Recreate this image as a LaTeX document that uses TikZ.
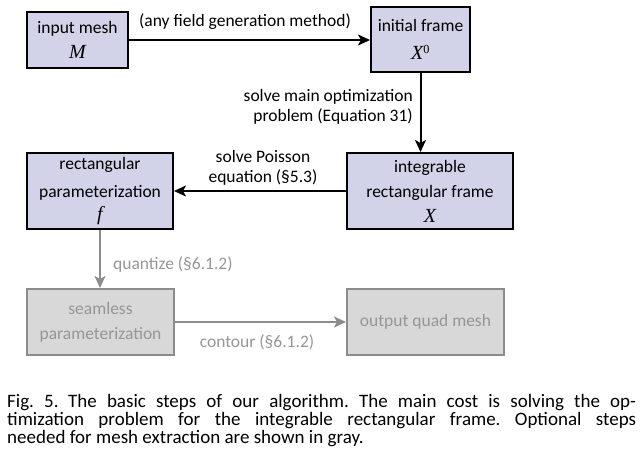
\documentclass[tikz,border=0pt]{standalone}
\usepackage{fontspec}
\setmainfont{Carlito}
\newfontfamily\varfont{Liberation Serif}
\newcommand{\var}[1]{{\fontsize{20}{24}\varfont\itshape #1}}
\usetikzlibrary{arrows.meta}
\definecolor{boxblue}{RGB}{210,210,232}
\definecolor{boxgray}{RGB}{216,216,216}
\definecolor{linegray}{RGB}{140,140,140}
\definecolor{textgray}{RGB}{150,150,150}
\begin{document}
\begin{tikzpicture}[x=1pt,y=-1pt,
  stepbox/.style={draw,line width=2pt,fill=boxblue,align=center,inner sep=2pt,
    font=\fontsize{17.5}{25}\selectfont},
  optbox/.style={stepbox,draw=linegray,fill=boxgray,text=textgray},
  flow/.style={line width=2pt,-{Stealth[length=12pt,width=11pt,inset=3pt]}},
  optflow/.style={flow,draw=linegray},
  lbl/.style={align=center,inner sep=0pt,font=\fontsize{17.5}{20}\selectfont},
  optlbl/.style={lbl,text=textgray}]
\useasboundingbox (0,0) rectangle (643,467);

% main steps
\node[stepbox,minimum width=101pt,minimum height=56pt] (mesh) at (77.5,40) {input mesh\\\var{M}};
\node[stepbox,minimum width=99pt,minimum height=65pt] (init) at (420.5,39.5) {initial frame\\[3pt]\var{X}\textsuperscript{\varfont 0}};
\node[stepbox,minimum width=166pt,minimum height=76pt] (integ) at (430,191) {integrable\\rectangular frame\\\var{X}};
\node[stepbox,minimum width=146pt,minimum height=76pt] (param) at (100,191) {rectangular\\[3pt]parameterization\\[-2pt]\var{f}};

% optional steps
\node[optbox,minimum width=147pt,minimum height=66pt] (seam) at (100.5,322) {seamless\\parameterization};
\node[optbox,minimum width=157pt,minimum height=66pt] (quad) at (425.5,322) {output quad mesh};

\draw[flow] (mesh.east) -- (mesh.east -| init.west);
\node[lbl] (genlbl) at (245,22) {(any field generation method)};
\draw[flow] (init.south) -- (init.south |- integ.north);
\node[lbl,align=right,anchor=east] (optimlbl) at (413,107) {solve main optimization\\problem (Equation 31)};
\draw[flow] (integ.west) -- (integ.west -| param.east);
\node[lbl] (poissonlbl) at (263,168) {solve Poisson\\equation (\S5.3)};

\draw[optflow] (param.south) -- (param.south |- seam.north);
\node[optlbl,anchor=west] (quantlbl) at (113,265) {quantize (\S6.1.2)};
\draw[optflow] (seam.east) -- (seam.east -| quad.west);
\node[optlbl] (contourlbl) at (257,342) {contour (\S6.1.2)};

% caption
\node[anchor=north west,text width=629pt,align=justify,inner sep=0pt,
  font=\fontsize{19}{18}\selectfont\frenchspacing] (caption) at (7,394)
  {Fig.~5.\enspace The basic steps of our algorithm. The main cost is solving the op-\linebreak
   timization problem for the integrable rectangular frame. Optional steps\linebreak
   needed for mesh extraction are shown in gray.};
\end{tikzpicture}
\end{document}
